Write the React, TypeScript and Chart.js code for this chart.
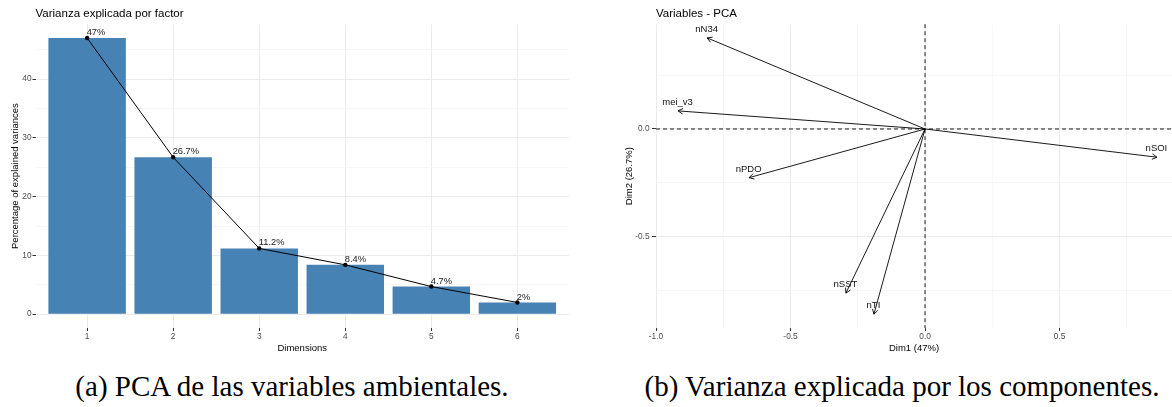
import React, { useEffect, useRef } from "react";
import { Chart, registerables } from "chart.js";

Chart.register(...registerables);

const SANS = "'Liberation Sans', Arial, Helvetica, sans-serif";
const SERIF = "'Liberation Serif', 'Times New Roman', serif";

// ---- Left panel: scree plot ----
const dimensions = [1, 2, 3, 4, 5, 6];
const explainedVariance = [47, 26.7, 11.2, 8.4, 4.7, 2];
const varianceLabels = ["47%", "26.7%", "11.2%", "8.4%", "4.7%", "2%"];
const screeYMajor = [0, 10, 20, 30, 40];
const screeYMinor = [5, 15, 25, 35, 45];

// ---- Right panel: variables PCA ----
const variableNames = ["nN34", "mei_v3", "nPDO", "nSST", "nTI", "nSOI"];
const dim1 = [-0.81, -0.918, -0.654, -0.294, -0.19, 0.862];
const dim2 = [0.423, 0.084, -0.226, -0.762, -0.86, -0.131];
const pcaXMajor = [-1, -0.5, 0, 0.5];
const pcaXMinor = [-0.75, -0.25, 0.25, 0.75];
const pcaYMajor = [-0.5, 0];
const pcaYMinor = [-0.75, -0.25, 0.25];

const captionA = "(a) PCA de las variables ambientales.";
const captionB = "(b) Varianza explicada por los componentes.";

const isMinor = (minor: number[], ctx: any) =>
  !!ctx.tick && minor.includes(ctx.tick.value);

const gridFor = (minor: number[], tickLength: number) => ({
  offset: false,
  color: (ctx: any) => (isMinor(minor, ctx) ? "#f3f3f3" : "#ebebeb"),
  lineWidth: (ctx: any) => (isMinor(minor, ctx) ? 0.7 : 1),
  tickColor: (ctx: any) => (isMinor(minor, ctx) ? "rgba(0,0,0,0)" : "#333333"),
  tickWidth: (ctx: any) => (isMinor(minor, ctx) ? 0 : 1),
  tickLength,
  drawTicks: true,
});

const tickFont = { family: SANS, size: 8.3 };
const axisTitleFont = { family: SANS, size: 9.5 };
const titleFont = { family: SANS, size: 11.5, weight: "normal" as const };

function ScreePlot() {
  const ref = useRef<HTMLCanvasElement | null>(null);
  useEffect(() => {
    if (!ref.current) return;
    const points = dimensions.map((d, i) => ({ x: d, y: explainedVariance[i] }));
    const labelPlugin = {
      id: "pctLabels",
      afterDatasetsDraw(chart: any) {
        const { ctx, scales } = chart;
        ctx.save();
        ctx.font = `9.3px ${SANS}`;
        ctx.fillStyle = "#1a1a1a";
        ctx.textAlign = "left";
        ctx.textBaseline = "middle";
        dimensions.forEach((d, i) => {
          const px = scales.x.getPixelForValue(d);
          const py = scales.y.getPixelForValue(explainedVariance[i]);
          ctx.fillText(varianceLabels[i], px - 0.5, py - 5.5);
        });
        ctx.restore();
      },
    };
    const chart = new Chart(ref.current, {
      type: "bar",
      data: {
        datasets: [
          {
            type: "line",
            data: points,
            borderColor: "#000000",
            borderWidth: 1,
            pointRadius: 2.2,
            pointBackgroundColor: "#000000",
            pointBorderWidth: 0,
            order: 0,
          } as any,
          {
            type: "bar",
            data: points,
            backgroundColor: "#4682B4",
            borderWidth: 0,
            barPercentage: 0.9,
            categoryPercentage: 1,
            order: 1,
          } as any,
        ],
      },
      options: {
        responsive: false,
        animation: false,
        layout: { padding: { left: 0, right: 11, top: 0, bottom: 0 } },
        plugins: {
          legend: { display: false },
          tooltip: { enabled: false },
          title: {
            display: true,
            text: "Varianza explicada por factor",
            align: "start",
            fullSize: false,
            color: "#000000",
            font: titleFont,
            padding: { top: 6.7, bottom: 3.7 },
          },
        },
        scales: {
          x: {
            type: "linear",
            offset: false,
            min: 0.4,
            max: 6.6,
            afterBuildTicks: (s: any) => {
              s.ticks = dimensions.map((v) => ({ value: v }));
            },
            afterFit: (s: any) => {
              s.height = 27;
            },
            grid: gridFor([], 3),
            border: { display: false },
            ticks: {
              autoSkip: false,
              maxRotation: 0,
              padding: 1,
              color: "#4d4d4d",
              font: tickFont,
              callback: (v: any) => String(v),
            },
            title: {
              display: true,
              text: "Dimensions",
              color: "#000000",
              font: axisTitleFont,
              padding: { top: 0, bottom: 1 },
            },
          },
          y: {
            type: "linear",
            min: -2.35,
            max: 49.35,
            afterBuildTicks: (s: any) => {
              s.ticks = [...screeYMajor, ...screeYMinor]
                .sort((a, b) => a - b)
                .map((v) => ({ value: v }));
            },
            afterFit: (s: any) => {
              s.width = 35.5;
            },
            grid: gridFor(screeYMinor, 3),
            border: { display: false },
            ticks: {
              autoSkip: false,
              padding: 1,
              color: "#4d4d4d",
              font: tickFont,
              callback: (v: any) => (screeYMinor.includes(v) ? "" : String(v)),
            },
            title: {
              display: true,
              text: "Percentage of explained variances",
              color: "#000000",
              font: axisTitleFont,
              padding: { top: 9.3, bottom: 0 },
            },
          },
        },
      } as any,
      plugins: [labelPlugin],
    });
    return () => chart.destroy();
  }, []);
  return <canvas ref={ref} width={580} height={355} style={{ position: "absolute", left: 0, top: 0 }} />;
}

function VariablesPlot() {
  const ref = useRef<HTMLCanvasElement | null>(null);
  useEffect(() => {
    if (!ref.current) return;
    const refLines = {
      id: "refLines",
      beforeDatasetsDraw(chart: any) {
        const { ctx, scales, chartArea } = chart;
        const x0 = scales.x.getPixelForValue(0);
        const y0 = scales.y.getPixelForValue(0);
        ctx.save();
        ctx.strokeStyle = "#000000";
        ctx.lineWidth = 0.9;
        ctx.setLineDash([4, 3]);
        ctx.beginPath();
        ctx.moveTo(x0, chartArea.top);
        ctx.lineTo(x0, chartArea.bottom);
        ctx.moveTo(chartArea.left, y0);
        ctx.lineTo(chartArea.right, y0);
        ctx.stroke();
        ctx.restore();
      },
    };
    const arrowsAndLabels = {
      id: "arrowsAndLabels",
      afterDatasetsDraw(chart: any) {
        const { ctx, scales } = chart;
        const ox = scales.x.getPixelForValue(0);
        const oy = scales.y.getPixelForValue(0);
        ctx.save();
        ctx.strokeStyle = "#000000";
        ctx.lineWidth = 0.9;
        ctx.setLineDash([]);
        variableNames.forEach((name, i) => {
          const tx = scales.x.getPixelForValue(dim1[i]);
          const ty = scales.y.getPixelForValue(dim2[i]);
          const ang = Math.atan2(ty - oy, tx - ox);
          const L = 5.5;
          const spread = Math.PI / 6;
          ctx.beginPath();
          ctx.moveTo(tx - L * Math.cos(ang - spread), ty - L * Math.sin(ang - spread));
          ctx.lineTo(tx, ty);
          ctx.lineTo(tx - L * Math.cos(ang + spread), ty - L * Math.sin(ang + spread));
          ctx.stroke();
          ctx.font = `9.5px ${SANS}`;
          ctx.fillStyle = "#111111";
          ctx.textAlign = "center";
          ctx.textBaseline = "middle";
          ctx.fillText(name, tx - 0.5, ty - 8.5);
        });
        ctx.restore();
      },
    };
    const chart = new Chart(ref.current, {
      type: "scatter",
      data: {
        datasets: variableNames.map((name, i) => ({
          label: name,
          data: [
            { x: 0, y: 0 },
            { x: dim1[i], y: dim2[i] },
          ],
          showLine: true,
          borderColor: "#000000",
          borderWidth: 0.9,
          pointRadius: 0,
        })),
      },
      options: {
        responsive: false,
        animation: false,
        layout: { padding: { left: 0, right: 0, top: 0, bottom: 0 } },
        plugins: {
          legend: { display: false },
          tooltip: { enabled: false },
          title: {
            display: true,
            text: "Variables - PCA",
            align: "start",
            fullSize: false,
            color: "#000000",
            font: titleFont,
            padding: { top: 6.7, bottom: 3.7 },
          },
        },
        scales: {
          x: {
            type: "linear",
            offset: false,
            min: -1.0,
            max: 0.918,
            afterBuildTicks: (s: any) => {
              s.ticks = [...pcaXMajor, ...pcaXMinor]
                .sort((a, b) => a - b)
                .map((v) => ({ value: v }));
            },
            afterFit: (s: any) => {
              s.height = 27;
            },
            grid: gridFor(pcaXMinor, 3),
            border: { display: false },
            ticks: {
              autoSkip: false,
              maxRotation: 0,
              padding: 1,
              color: "#4d4d4d",
              font: tickFont,
              callback: (v: any) => (pcaXMinor.includes(v) ? "" : Number(v).toFixed(1)),
            },
            title: {
              display: true,
              text: "Dim1 (47%)",
              color: "#000000",
              font: axisTitleFont,
              padding: { top: 0, bottom: 1 },
            },
          },
          y: {
            type: "linear",
            min: -0.924,
            max: 0.4865,
            afterBuildTicks: (s: any) => {
              s.ticks = [...pcaYMajor, ...pcaYMinor]
                .sort((a, b) => a - b)
                .map((v) => ({ value: v }));
            },
            afterFit: (s: any) => {
              s.width = 56;
            },
            grid: gridFor(pcaYMinor, 4),
            border: { display: false },
            ticks: {
              autoSkip: false,
              padding: 2.5,
              color: "#4d4d4d",
              font: tickFont,
              callback: (v: any) => (pcaYMinor.includes(v) ? "" : Number(v).toFixed(1)),
            },
            title: {
              display: true,
              text: "Dim2 (26.7%)",
              color: "#000000",
              font: axisTitleFont,
              padding: { top: 23.3, bottom: 0 },
            },
          },
        },
      } as any,
      plugins: [refLines, arrowsAndLabels],
    });
    return () => chart.destroy();
  }, []);
  return <canvas ref={ref} width={572} height={355} style={{ position: "absolute", left: 600, top: 0 }} />;
}

export default function App() {
  const captionStyle: React.CSSProperties = {
    position: "absolute",
    top: 372,
    fontFamily: SERIF,
    fontSize: 29,
    lineHeight: "29px",
    color: "#000000",
    textAlign: "center",
    whiteSpace: "nowrap",
  };
  return (
    <div style={{ position: "absolute", left: 0, top: 0, width: 1172, height: 407, background: "#ffffff", overflow: "hidden" }}>
      <ScreePlot />
      <VariablesPlot />
      <div style={{ ...captionStyle, left: 42, width: 500 }}>{captionA}</div>
      <div style={{ ...captionStyle, left: 642, width: 520 }}>{captionB}</div>
    </div>
  );
}
